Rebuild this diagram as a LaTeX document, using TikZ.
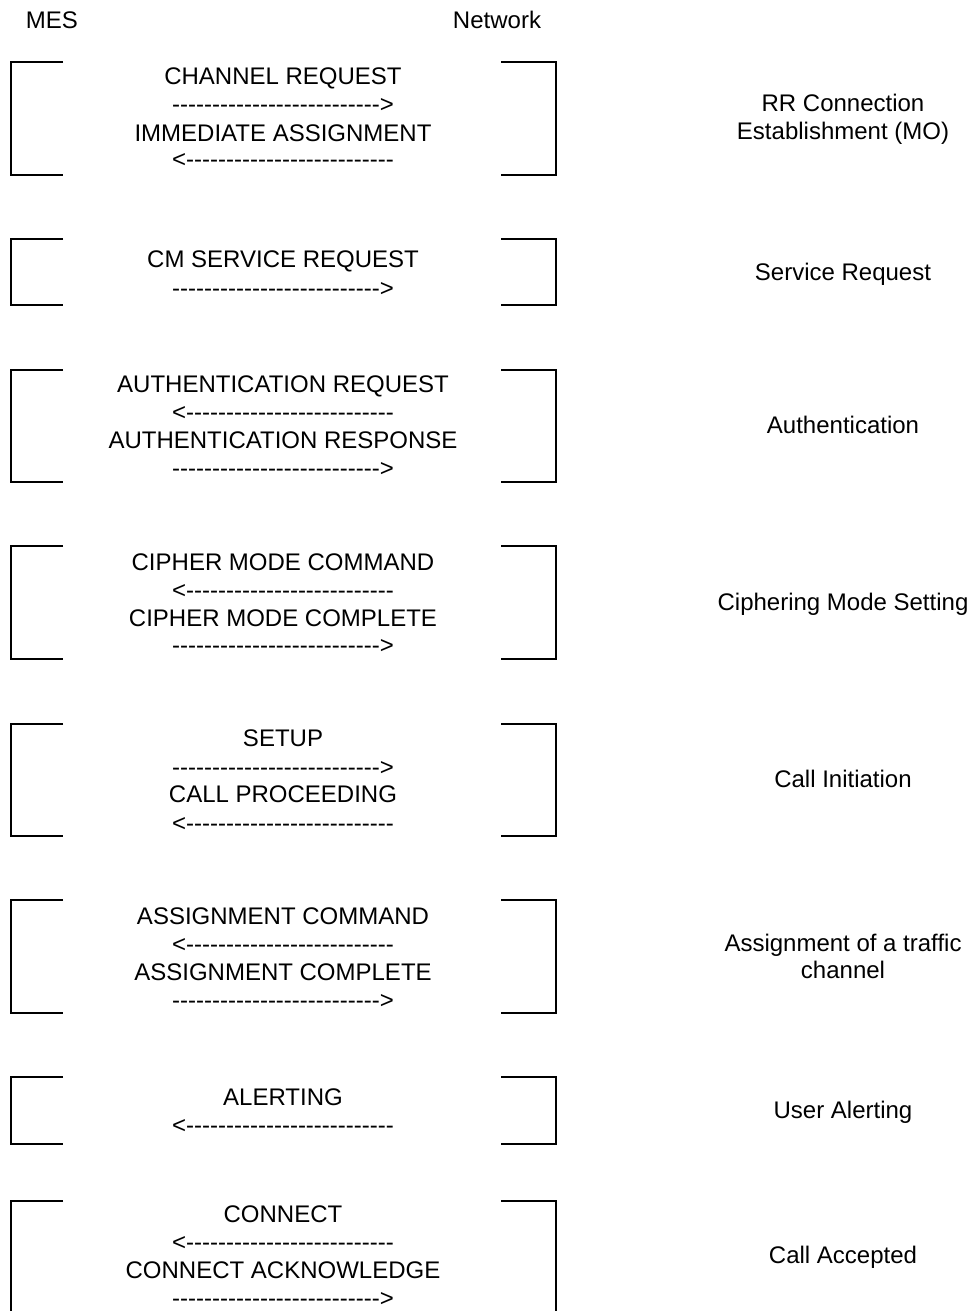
\documentclass[tikz,border=0pt]{standalone}
\usepackage{fontspec}
\setmainfont{Liberation Sans}
\begin{document}
\begin{tikzpicture}[x=1pt,y=-1pt,
  txt/.style={anchor=base,inner sep=0pt,font=\fontsize{24}{28}\selectfont},
  arr/.style={txt,yshift=-3pt},
  bracket/.style={line width=1.6pt}]
\useasboundingbox (0,0) rectangle (971,1311);
\clip (0,0) rectangle (971,1311);
\def\ra{-{}-{}-{}-{}-{}-{}-{}-{}-{}-{}-{}-{}-{}-{}-{}-{}-{}-{}-{}-{}-{}-{}-{}-{}-{}-{}>}
\def\la{<-{}-{}-{}-{}-{}-{}-{}-{}-{}-{}-{}-{}-{}-{}-{}-{}-{}-{}-{}-{}-{}-{}-{}-{}-{}-{}}

% column headings
\node[txt] (mes) at (52,28.6) {MES};
\node[txt] (net) at (497,28.6) {Network};

% brackets: top / bottom of each exchange
\foreach \t/\b in {62/175, 239/305, 370/482, 546/659, 724/836, 900/1013, 1077/1144, 1201/1330}{
  \draw[bracket] (63,\t) -- (11,\t) -- (11,\b) -- (63,\b);
  \draw[bracket] (501,\t) -- (556,\t) -- (556,\b) -- (501,\b);
}

% RR connection establishment
\node[txt] (m1a) at (283,84.6) {CHANNEL REQUEST};
\node[arr] (a1a) at (283,109.7) {\ra};
\node[txt] (m1b) at (283,141.1) {IMMEDIATE ASSIGNMENT};
\node[arr] (a1b) at (283,164.7) {\la};
\node[txt] (p1a) at (843,111.6) {RR Connection};
\node[txt] (p1b) at (843,139.6) {Establishment (MO)};

% service request
\node[txt] (m2a) at (283,267.6) {CM SERVICE REQUEST};
\node[arr] (a2a) at (283,293.7) {\ra};
\node[txt] (p2) at (843,280.6) {Service Request};

% authentication
\node[txt] (m3a) at (283,392.6) {AUTHENTICATION REQUEST};
\node[arr] (a3a) at (283,417.7) {\la};
\node[txt] (m3b) at (283,448.1) {AUTHENTICATION RESPONSE};
\node[arr] (a3b) at (283,473.7) {\ra};
\node[txt] (p3) at (843,433.6) {Authentication};

% ciphering
\node[txt] (m4a) at (283,570.6) {CIPHER MODE COMMAND};
\node[arr] (a4a) at (283,595.7) {\la};
\node[txt] (m4b) at (283,626.1) {CIPHER MODE COMPLETE};
\node[arr] (a4b) at (283,650.7) {\ra};
\node[txt] (p4) at (843,610.6) {Ciphering Mode Setting};

% call initiation
\node[txt] (m5a) at (283,746.6) {SETUP};
\node[arr] (a5a) at (283,772.7) {\ra};
\node[txt] (m5b) at (283,802.1) {CALL PROCEEDING};
\node[arr] (a5b) at (283,828.7) {\la};
\node[txt] (p5) at (843,787.6) {Call Initiation};

% traffic channel assignment
\node[txt] (m6a) at (283,924.6) {ASSIGNMENT COMMAND};
\node[arr] (a6a) at (283,949.7) {\la};
\node[txt] (m6b) at (283,980.1) {ASSIGNMENT COMPLETE};
\node[arr] (a6b) at (283,1005.7) {\ra};
\node[txt] (p6a) at (843,951.6) {Assignment of a traffic};
\node[txt] (p6b) at (843,978.6) {channel};

% user alerting
\node[txt] (m7a) at (283,1105.6) {ALERTING};
\node[arr] (a7a) at (283,1130.7) {\la};
\node[txt] (p7) at (843,1118.6) {User Alerting};

% call accepted
\node[txt] (m8a) at (283,1222.6) {CONNECT};
\node[arr] (a8a) at (283,1247.7) {\la};
\node[txt] (m8b) at (283,1278.1) {CONNECT ACKNOWLEDGE};
\node[arr] (a8b) at (283,1303.7) {\ra};
\node[txt] (p8) at (843,1263.6) {Call Accepted};
\end{tikzpicture}
\end{document}
